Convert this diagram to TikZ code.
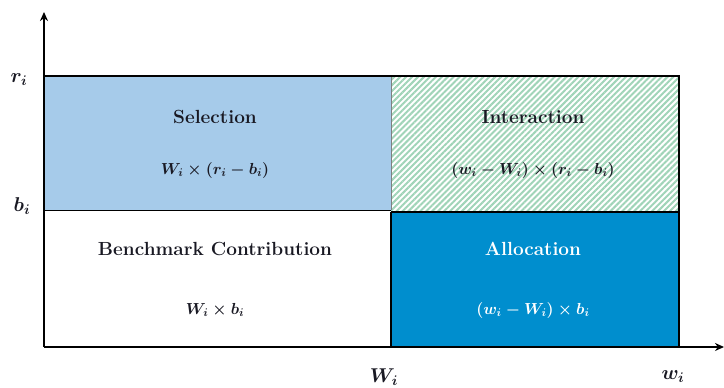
\RequirePackage{fix-cm}
\documentclass[tikz,border=0pt]{standalone}
\usepackage{fontspec}
\usetikzlibrary{patterns.meta,arrows.meta}
\definecolor{selblue}{RGB}{166,203,234}
\definecolor{allocblue}{RGB}{0,142,206}
\definecolor{hatchgreen}{RGB}{160,212,184}
\definecolor{txt}{RGB}{25,25,35}
\begin{document}
\begin{tikzpicture}[x=1pt,y=-1pt,
  lbl/.style={font=\fontsize{19}{22}\selectfont\bfseries, text=txt},
  frm/.style={font=\fontsize{16}{19}\selectfont\boldmath, text=txt},
  axlbl/.style={font=\fontsize{20}{23}\selectfont\boldmath, text=txt},
  axisline/.style={line width=1.8pt, -{Stealth[length=9pt,width=8pt]}},
  region/.style={line width=0.8pt, draw=black}]
\useasboundingbox (0,0) rectangle (724,388);
% regions
\fill[selblue] (44,76) rectangle (391,210);
\fill[pattern={Lines[angle=45,distance=4.2pt,line width=2pt]}, pattern color=hatchgreen] (391,76) rectangle (679,210);
\fill[allocblue] (391,212) rectangle (679,347);
\draw[region] (44,210) -- (391,210);
\draw[line width=0.5pt, draw=gray] (391,76) -- (391,210);
\draw[line width=1.6pt] (391,212) -- (679,212);
\draw[line width=1.6pt] (391,212) -- (391,347);
\draw[line width=2pt] (44,76) -- (679,76) -- (679,347);
% axes
\coordinate (o) at (44,347);
\coordinate (ytip) at (44,12);
\coordinate (xtip) at (724,347);
\draw[axisline] (o) -- (ytip);
\draw[axisline] (o) -- (xtip);
% texts
\node[lbl] (sel) at (215,117) {Selection};
\node[frm] (self) at (215,170) {$W_i \times (r_i - b_i)$};
\node[lbl] (int) at (533,117) {Interaction};
\node[frm] (intf) at (533,170) {$(w_i - W_i) \times (r_i - b_i)$};
\node[lbl] (bench) at (215,249) {Benchmark Contribution};
\node[frm] (benchf) at (215,310) {$W_i \times b_i$};
\node[lbl, text=white] (alloc) at (533,249) {Allocation};
\node[frm, text=white] (allocf) at (533,310) {$(w_i - W_i) \times b_i$};
% axis labels
\node[axlbl] (ri) at (19,80) {$r_i$};
\node[axlbl] (bi) at (22,206) {$b_i$};
\node[axlbl] (Wi) at (384,377) {$W_i$};
\node[axlbl] (wi) at (673,377) {$w_i$};
\end{tikzpicture}
\end{document}
